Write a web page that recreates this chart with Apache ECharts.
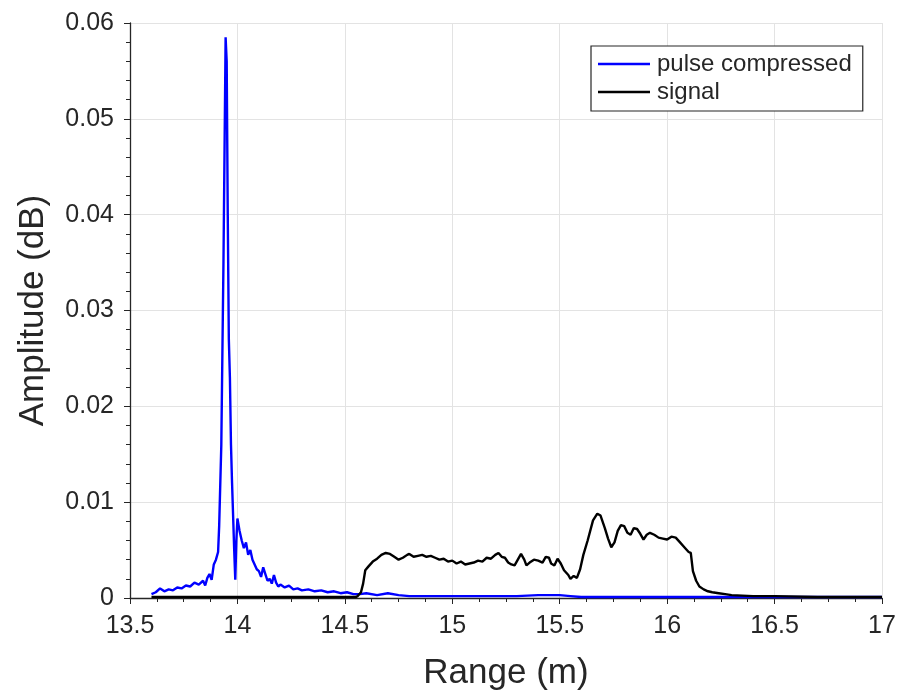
<!DOCTYPE html>
<html>
<head>
<meta charset="utf-8">
<title>Range profile</title>
<script src="https://cdn.jsdelivr.net/npm/echarts@6/dist/echarts.min.js"></script>
<style>
  html, body { margin: 0; padding: 0; background: #ffffff; }
  #chart { width: 900px; height: 691px; }
</style>
</head>
<body>
<div id="chart"></div>
<script>
// Pulse-compressed output (range in metres, amplitude)
const pulseRange = [
  13.60, 13.62, 13.64, 13.66, 13.68, 13.70, 13.72, 13.74, 13.76, 13.78,
  13.80, 13.82, 13.84, 13.85, 13.86, 13.87, 13.88, 13.89, 13.90, 13.91,
  13.915, 13.925, 13.935, 13.945, 13.950, 13.955, 13.960, 13.965, 13.970, 13.975,
  13.985, 13.990, 13.995, 14.000, 14.010, 14.020, 14.030, 14.040, 14.050, 14.060,
  14.070, 14.080, 14.090, 14.100, 14.110, 14.120, 14.130, 14.140, 14.150, 14.160,
  14.170, 14.180, 14.190, 14.200, 14.220, 14.240, 14.260, 14.280, 14.300, 14.330,
  14.360, 14.390, 14.420, 14.450, 14.480, 14.510, 14.540, 14.570, 14.600, 14.650,
  14.700, 14.750, 14.800, 14.900, 15.000, 15.100, 15.200, 15.300, 15.400, 15.500,
  15.550, 15.600, 15.800, 16.000, 16.200, 16.500, 17.000
];
const pulseAmp = [
  0.0004, 0.0006, 0.0010, 0.0007, 0.0009, 0.0008, 0.0011, 0.0010, 0.0013, 0.0012,
  0.0016, 0.0014, 0.0018, 0.0013, 0.0021, 0.0025, 0.0019, 0.0035, 0.0040, 0.0048,
  0.0075, 0.0160, 0.0350, 0.0585, 0.0560, 0.0400, 0.0270, 0.0230, 0.0160, 0.0120,
  0.0050, 0.0019, 0.0060, 0.0083, 0.0070, 0.0060, 0.0052, 0.0058, 0.0045, 0.0050,
  0.0040, 0.0035, 0.0030, 0.0028, 0.0022, 0.0032, 0.0025, 0.0018, 0.0020, 0.0015,
  0.0024, 0.0016, 0.0012, 0.0014, 0.0011, 0.0013, 0.0009, 0.0010, 0.0008, 0.0009,
  0.0007, 0.0008, 0.0006, 0.0007, 0.0005, 0.0006, 0.0004, 0.0004, 0.0005, 0.0003,
  0.0005, 0.0003, 0.0002, 0.0002, 0.0002, 0.0002, 0.0002, 0.0002, 0.0003, 0.0003,
  0.0002, 0.0001, 0.0001, 0.0001, 0.0001, 0.0001, 0.0001
];

// Raw received signal envelope
const signalRange = [
  13.60, 13.80, 14.00, 14.20, 14.40, 14.55, 14.56, 14.575, 14.585, 14.595,
  14.61, 14.63, 14.65, 14.67, 14.69, 14.71, 14.73, 14.75, 14.77, 14.79,
  14.80, 14.82, 14.84, 14.86, 14.88, 14.90, 14.92, 14.94, 14.96, 14.98,
  15.00, 15.02, 15.04, 15.06, 15.08, 15.10, 15.12, 15.14, 15.16, 15.18,
  15.20, 15.215, 15.23, 15.245, 15.26, 15.275, 15.29, 15.305, 15.32, 15.335,
  15.345, 15.36, 15.38, 15.40, 15.42, 15.435, 15.45, 15.46, 15.475, 15.49,
  15.505, 15.52, 15.54, 15.55, 15.565, 15.58, 15.595, 15.61, 15.63, 15.655,
  15.675, 15.69, 15.71, 15.725, 15.74, 15.755, 15.77, 15.785, 15.80, 15.815,
  15.83, 15.845, 15.86, 15.875, 15.89, 15.905, 15.92, 15.94, 15.96, 15.98,
  16.00, 16.02, 16.04, 16.06, 16.08, 16.10, 16.11, 16.12, 16.135, 16.15,
  16.17, 16.19, 16.21, 16.24, 16.27, 16.30, 16.40, 16.50, 16.70, 17.00
];
const signalAmp = [
  0.0001, 0.0001, 0.0001, 0.0001, 0.0001, 0.0001, 0.0002, 0.0006, 0.0015, 0.0029,
  0.0033, 0.0038, 0.0041, 0.0045, 0.0047, 0.0046, 0.0043, 0.0040, 0.0042, 0.0045,
  0.0046, 0.0043, 0.0044, 0.0045, 0.0043, 0.0044, 0.0042, 0.0040, 0.0041, 0.0038,
  0.0039, 0.0036, 0.0038, 0.0035, 0.0036, 0.0037, 0.0039, 0.0038, 0.0042, 0.0041,
  0.0045, 0.0047, 0.0043, 0.0042, 0.0037, 0.0035, 0.0034, 0.0040, 0.0046, 0.0040,
  0.0034, 0.0037, 0.0040, 0.0039, 0.0037, 0.0043, 0.0042, 0.0036, 0.0034, 0.0041,
  0.0036, 0.0029, 0.0024, 0.0020, 0.0023, 0.0021, 0.0030, 0.0045, 0.0060, 0.0081,
  0.0088, 0.0086, 0.0073, 0.0062, 0.0053, 0.0058, 0.0070, 0.0076, 0.0075, 0.0068,
  0.0066, 0.0073, 0.0072, 0.0067, 0.0061, 0.0066, 0.0068, 0.0066, 0.0063, 0.0062,
  0.0061, 0.0064, 0.0063, 0.0058, 0.0053, 0.0048, 0.0047, 0.0028, 0.0018, 0.0012,
  0.0009, 0.0007, 0.0006, 0.0005, 0.0004, 0.0003, 0.0002, 0.0002, 0.0001, 0.0001
];

const seriesNames = ['pulse compressed', 'signal'];

const textColor = '#262626';
const gridColor = '#e3e3e3';
const fontFamily = '"Liberation Sans", Arial, Helvetica, sans-serif';

const zip = (xs, ys) => xs.map((x, i) => [x, ys[i]]);

const chart = echarts.init(document.getElementById('chart'), null, { renderer: 'canvas' });

chart.setOption({
  animation: false,
  backgroundColor: '#ffffff',
  textStyle: { fontFamily: fontFamily, color: textColor },
  grid: { left: 130, right: 18, top: 23, bottom: 93, containLabel: false, outerBoundsMode: 'none' },
  legend: {
    orient: 'vertical',
    left: 591,
    top: 46,
    data: seriesNames,
    icon: 'rect',
    itemWidth: 52,
    itemHeight: 2.5,
    itemGap: 4,
    padding: [6, 11, 7, 7],
    borderColor: textColor,
    borderWidth: 1.2,
    borderRadius: 0,
    backgroundColor: '#ffffff',
    textStyle: { fontSize: 24, lineHeight: 24, color: textColor, fontFamily: fontFamily, padding: [0, 0, 0, 2] }
  },
  xAxis: {
    type: 'value',
    min: 13.5,
    max: 17,
    interval: 0.5,
    name: 'Range (m)',
    nameLocation: 'middle',
    nameGap: 58,
    nameTextStyle: { fontSize: 35, color: textColor, fontFamily: fontFamily },
    axisLine: { show: true, onZero: false, lineStyle: { color: textColor, width: 1.3 } },
    axisTick: { show: true, inside: false, length: 6, lineStyle: { color: textColor } },
    minorTick: { show: true, splitNumber: 4, length: 4, lineStyle: { color: textColor } },
    axisLabel: {
      fontSize: 25, color: textColor, margin: 16, fontFamily: fontFamily,
      formatter: v => String(+v.toFixed(1))
    },
    splitLine: { show: true, lineStyle: { color: gridColor, width: 1 } }
  },
  yAxis: {
    type: 'value',
    min: 0,
    max: 0.06,
    interval: 0.01,
    name: 'Amplitude (dB)',
    nameLocation: 'middle',
    nameGap: 79,
    nameTextStyle: { fontSize: 35, color: textColor, fontFamily: fontFamily },
    axisLine: { show: true, onZero: false, lineStyle: { color: textColor, width: 1.3 } },
    axisTick: { show: true, inside: false, length: 6, lineStyle: { color: textColor } },
    minorTick: { show: true, splitNumber: 5, length: 4, lineStyle: { color: textColor } },
    axisLabel: {
      fontSize: 25, color: textColor, margin: 16, fontFamily: fontFamily,
      formatter: v => (v === 0 ? '0' : v.toFixed(2))
    },
    splitLine: { show: true, lineStyle: { color: gridColor, width: 1 } }
  },
  series: [
    {
      name: seriesNames[0],
      type: 'line',
      data: zip(pulseRange, pulseAmp),
      showSymbol: false,
      color: '#0000ff',
      lineStyle: { color: '#0000ff', width: 2.4 },
      z: 2
    },
    {
      name: seriesNames[1],
      type: 'line',
      data: zip(signalRange, signalAmp),
      showSymbol: false,
      color: '#000000',
      lineStyle: { color: '#000000', width: 2.4 },
      z: 3
    }
  ]
});
</script>
</body>
</html>
